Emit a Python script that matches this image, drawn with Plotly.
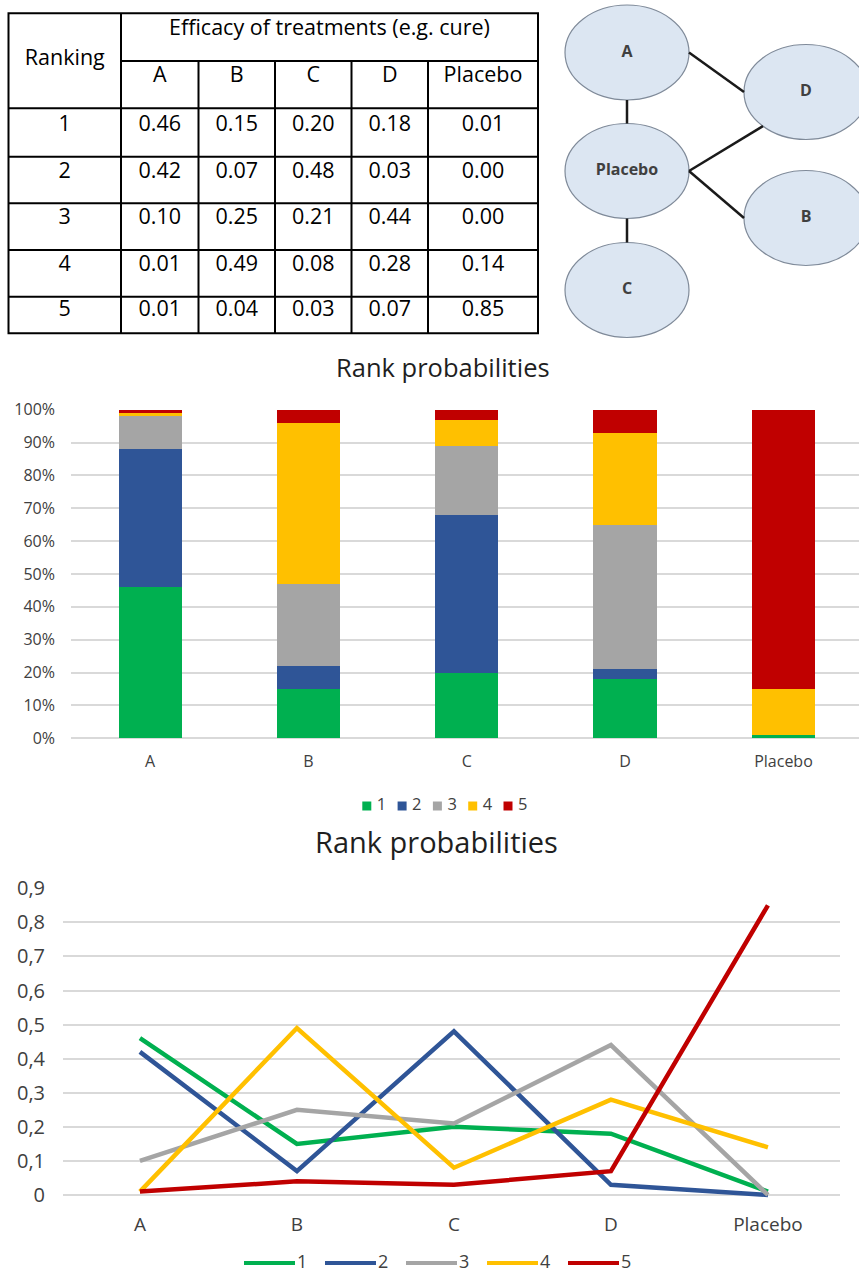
import math
import plotly.graph_objects as go

# ---------------- data ----------------
treatments = ["A", "B", "C", "D", "Placebo"]
rank_labels = ["1", "2", "3", "4", "5"]
rank_1 = [0.46, 0.15, 0.20, 0.18, 0.01]
rank_2 = [0.42, 0.07, 0.48, 0.03, 0.00]
rank_3 = [0.10, 0.25, 0.21, 0.44, 0.00]
rank_4 = [0.01, 0.49, 0.08, 0.28, 0.14]
rank_5 = [0.01, 0.04, 0.03, 0.07, 0.85]
table_header_main = "Efficacy of treatments (e.g. cure)"
table_header_rank = "Ranking"
chart_title = "Rank probabilities"
network_nodes = ["A", "Placebo", "C", "D", "B"]
network_edges = [("A", "Placebo"), ("Placebo", "C"), ("A", "D"), ("Placebo", "D"), ("Placebo", "B")]

rank_series = [rank_1, rank_2, rank_3, rank_4, rank_5]

# ---------------- styles / layout ----------------
COLORS = ["#00B050", "#2F5597", "#A5A5A5", "#FFC000", "#C00000"]
FONT = "Open Sans"
GRID = "#D9D9D9"
TICK_COL = "#404040"
TITLE_COL = "#1F1F1F"
W, H = 859, 1276


def fx(px):
    return px / W


def fy(py):
    return 1 - py / H


fig = go.Figure()

# ---- stacked bar chart ----
for lab, vals, col in zip(rank_labels, rank_series, COLORS):
    fig.add_trace(go.Bar(x=treatments, y=vals, name=lab, marker=dict(color=col, line=dict(width=0)),
                         xaxis="x", yaxis="y", showlegend=False, hoverinfo="skip"))

# ---- line chart ----
for lab, vals, col in zip(rank_labels, rank_series, COLORS):
    fig.add_trace(go.Scatter(x=treatments, y=vals, name=lab, mode="lines",
                             line=dict(color=col, width=4.5),
                             xaxis="x2", yaxis="y2", showlegend=False, hoverinfo="skip"))

# ---- table (page pixel axis x3/y3) ----
col_edges = [8.5, 121, 198.5, 275, 351.5, 428, 538]
row_edges = [13.3, 61, 108.3, 156.7, 203.3, 250, 296.7, 333.3]
row_text_y = [126, 173, 219, 266, 311]
col_centers = [(col_edges[i] + col_edges[i + 1]) / 2 for i in range(1, 6)]

shapes = []
LW = 2
shapes.append(dict(type="rect", xref="x3", yref="y3", x0=col_edges[0], x1=col_edges[-1],
                   y0=row_edges[0], y1=row_edges[-1], line=dict(color="black", width=LW)))
shapes.append(dict(type="line", xref="x3", yref="y3", x0=col_edges[1], x1=col_edges[1],
                   y0=row_edges[0], y1=row_edges[-1], line=dict(color="black", width=LW)))
for c in col_edges[2:6]:
    shapes.append(dict(type="line", xref="x3", yref="y3", x0=c, x1=c,
                       y0=row_edges[1], y1=row_edges[-1], line=dict(color="black", width=LW)))
shapes.append(dict(type="line", xref="x3", yref="y3", x0=col_edges[1], x1=col_edges[-1],
                   y0=row_edges[1], y1=row_edges[1], line=dict(color="black", width=LW)))
for r in row_edges[2:7]:
    shapes.append(dict(type="line", xref="x3", yref="y3", x0=col_edges[0], x1=col_edges[-1],
                       y0=r, y1=r, line=dict(color="black", width=LW)))

tx, ty, tt = [], [], []
tx.append((col_edges[0] + col_edges[1]) / 2); ty.append(60); tt.append(table_header_rank)
tx.append((col_edges[1] + col_edges[-1]) / 2); ty.append(30); tt.append(table_header_main)
for c, name in zip(col_centers, treatments):
    tx.append(c); ty.append(77); tt.append(name)
for i, (lab, yy) in enumerate(zip(rank_labels, row_text_y)):
    tx.append((col_edges[0] + col_edges[1]) / 2); ty.append(yy); tt.append(lab)
    for j, c in enumerate(col_centers):
        tx.append(c); ty.append(yy); tt.append(f"{rank_series[i][j]:.2f}")
fig.add_trace(go.Scatter(x=tx, y=ty, text=tt, mode="text", textposition="middle center",
                         textfont=dict(family=FONT, size=21.5, color="black"),
                         xaxis="x3", yaxis="y3", showlegend=False, hoverinfo="skip"))

# ---- network diagram ----
node_pos = {"A": (627, 52.5), "Placebo": (627, 171), "C": (627, 290), "D": (806, 92), "B": (806, 218)}
RX, RY = 62, 47.5
# anchor angles (degrees, y pointing down) for each edge end
edge_anchor = {("A", "Placebo"): (90, 270), ("Placebo", "C"): (90, 270), ("A", "D"): (0, 180),
               ("Placebo", "D"): (0, 134), ("Placebo", "B"): (0, 180)}
for n in network_nodes:
    cx, cy = node_pos[n]
    shapes.append(dict(type="circle", xref="x3", yref="y3", x0=cx - RX, x1=cx + RX, y0=cy - RY, y1=cy + RY,
                       fillcolor="#DCE6F2", line=dict(color="#7F8A99", width=1.2), layer="below"))
ex, ey = [], []
for a, b in network_edges:
    ta, tb = edge_anchor[(a, b)]
    ax_, ay_ = node_pos[a]
    bx_, by_ = node_pos[b]
    ex += [ax_ + RX * math.cos(math.radians(ta)), bx_ + RX * math.cos(math.radians(tb)), None]
    ey += [ay_ + RY * math.sin(math.radians(ta)), by_ + RY * math.sin(math.radians(tb)), None]
fig.add_trace(go.Scatter(x=ex, y=ey, mode="lines", line=dict(color="#1A1A1A", width=2.5),
                         xaxis="x3", yaxis="y3", showlegend=False, hoverinfo="skip"))
fig.add_trace(go.Scatter(x=[node_pos[n][0] for n in network_nodes], y=[node_pos[n][1] for n in network_nodes],
                         text=[f"<b>{n}</b>" for n in network_nodes], mode="text",
                         textfont=dict(family=FONT, size=16, color="#404040"),
                         xaxis="x3", yaxis="y3", showlegend=False, hoverinfo="skip"))

# ---- custom legends ----
bar_leg_x0, bar_leg_dx, bar_leg_y = 366.8, 35.3, 806
for k, (lab, col) in enumerate(zip(rank_labels, COLORS)):
    xm = bar_leg_x0 + k * bar_leg_dx
    fig.add_trace(go.Scatter(x=[xm], y=[bar_leg_y], mode="markers",
                             marker=dict(symbol="square", size=9, color=col),
                             xaxis="x3", yaxis="y3", showlegend=False, hoverinfo="skip"))
    fig.add_trace(go.Scatter(x=[xm + 10], y=[bar_leg_y], text=[lab], mode="text", textposition="middle right",
                             textfont=dict(family=FONT, size=16.5, color=TICK_COL),
                             xaxis="x3", yaxis="y3", showlegend=False, hoverinfo="skip"))

ln_leg_x0, ln_leg_dx, ln_leg_len, ln_leg_y = 244, 81, 51, 1263
for k, (lab, col) in enumerate(zip(rank_labels, COLORS)):
    xs = ln_leg_x0 + k * ln_leg_dx
    fig.add_trace(go.Scatter(x=[xs, xs + ln_leg_len], y=[ln_leg_y, ln_leg_y], mode="lines",
                             line=dict(color=col, width=4),
                             xaxis="x3", yaxis="y3", showlegend=False, hoverinfo="skip"))
    fig.add_trace(go.Scatter(x=[xs + ln_leg_len + 2], y=[ln_leg_y], text=[lab], mode="text",
                             textposition="middle right", cliponaxis=False,
                             textfont=dict(family=FONT, size=18, color=TICK_COL),
                             xaxis="x3", yaxis="y3", showlegend=False, hoverinfo="skip"))

annotations = [
    dict(text=chart_title, x=fx(442.5), y=fy(367), xref="paper", yref="paper", showarrow=False,
         xanchor="center", yanchor="middle", font=dict(family=FONT, size=25.5, color=TITLE_COL)),
    dict(text=chart_title, x=fx(436), y=fy(842), xref="paper", yref="paper", showarrow=False,
         xanchor="center", yanchor="middle", font=dict(family=FONT, size=29, color=TITLE_COL)),
]

fig.update_layout(
    template="none",
    width=W, height=H, margin=dict(l=0, r=0, t=0, b=0, pad=0), autosize=False,
    paper_bgcolor="white", plot_bgcolor="rgba(0,0,0,0)",
    barmode="stack", bargap=0.6, separators=", ",
    font=dict(family=FONT, color=TICK_COL),
    shapes=shapes, annotations=annotations,
    xaxis=dict(domain=[fx(71), 1], type="category", range=[-0.5, 4.477], showgrid=False, zeroline=False,
               showline=False, ticks="", ticklabelstandoff=12, tickfont=dict(size=16, color=TICK_COL),
               anchor="y", automargin=False),
    yaxis=dict(domain=[fy(738.3), fy(409.7)], range=[0, 1], dtick=0.1, tickformat=".0%", showgrid=True,
               gridcolor=GRID, gridwidth=1.6, zeroline=True, zerolinecolor=GRID, zerolinewidth=1.6,
               ticks="", ticklabelstandoff=15, tickfont=dict(size=16, color=TICK_COL), anchor="x",
               automargin=False),
    xaxis2=dict(domain=[fx(63), fx(840)], type="category", range=[-0.49, 4.459], showgrid=False, zeroline=False,
                showline=False, ticks="", ticklabelstandoff=13, tickfont=dict(size=19, color=TICK_COL),
                anchor="y2", automargin=False),
    yaxis2=dict(domain=[fy(1198.4), fy(888.3)], range=[-0.01, 0.9], tick0=0, dtick=0.1, showgrid=True,
                gridcolor=GRID, gridwidth=1.6, zeroline=True, zerolinecolor=GRID, zerolinewidth=1.6,
                ticks="", ticklabelstandoff=17, tickfont=dict(size=20, color=TICK_COL), anchor="x2",
                automargin=False),
    xaxis3=dict(domain=[0, 1], range=[0, W], visible=False, anchor="y3", automargin=False),
    yaxis3=dict(domain=[0, 1], range=[H, 0], visible=False, anchor="x3", automargin=False),
)

fig.write_html("out.html", config={"displayModeBar": False},
               post_script="document.body.style.margin='0';")
